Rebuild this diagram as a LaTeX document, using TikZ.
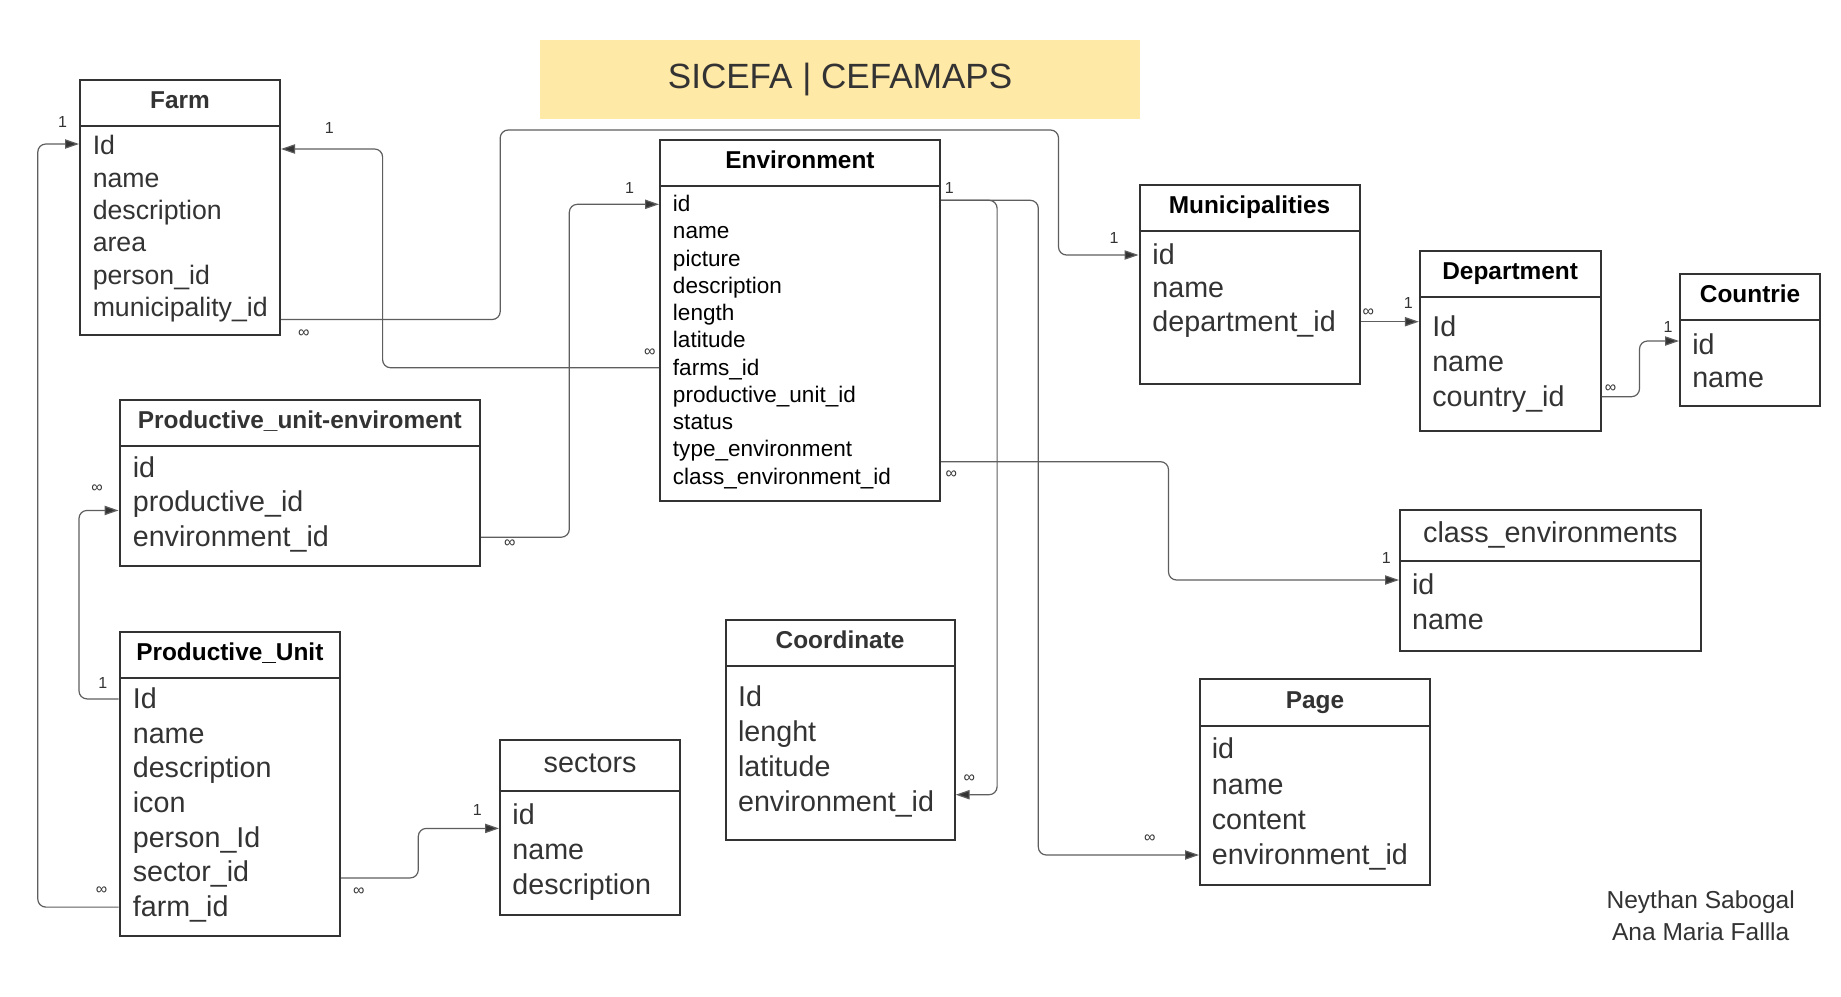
\documentclass[tikz,border=0pt]{standalone}
\usepackage{fontspec}
\setmainfont{Liberation Sans}
\usetikzlibrary{arrows.meta,fit,calc}
\definecolor{boxc}{HTML}{333333}
\definecolor{txt}{HTML}{333333}
\definecolor{linec}{HTML}{5E5E5E}
\definecolor{titlefill}{HTML}{FFE9A6}
\newcommand\fs[1]{\fontsize{#1}{#1}\selectfont}
% name, L, T, R, B, header-rule y, header style, title
\newcommand\ertable[8]{%
  \coordinate (#1-nw) at (#2,#3);
  \coordinate (#1-se) at (#4,#5);
  \node[tbl, fit=(#1-nw)(#1-se)] (#1) {};
  \draw[rule] (#2,#6) -- (#4,#6);
  \node[#7] (#1-title) at ({(#2+#4)/2},{(#3+#6)/2-3}) {#8};
}
% prefix, x, y0, pitch, style, list key/text
\newcommand\erfields[6]{%
  \foreach \fkey/\ftxt [count=\i from 0] in {#6}{%
    \node[#5] (#1-\fkey) at (#2,{#3+\i*#4}) {\ftxt};
  }%
}
\begin{document}
\begin{tikzpicture}[x=0.75pt,y=-0.75pt,
  tbl/.style={draw=boxc,line width=1.5pt,inner sep=0pt,fill=white},
  rule/.style={draw=boxc,line width=1.5pt},
  hdr/.style={font=\bfseries\fs{18.3pt},text=txt,inner sep=0pt,text height=13.1pt,text depth=0pt},
  hdrn/.style={font=\fs{21.6pt},text=txt,inner sep=0pt,text height=15.5pt,text depth=0pt},
  f20/.style={anchor=west,inner sep=0pt,text=txt,font=\fs{20pt},text height=16pt,text depth=2.8pt},
  f17/.style={anchor=west,inner sep=0pt,text=black,font=\fs{16.9pt},text height=13.5pt,text depth=2.4pt},
  f21/.style={anchor=west,inner sep=0pt,text=txt,font=\fs{21.5pt},text height=17.2pt,text depth=3pt},
  conn/.style={draw=linec,line width=0.9pt,rounded corners=6pt,
    -{Triangle[length=10.5pt,width=7pt,fill=boxc]}},
  card/.style={font=\fs{12pt},text=txt,inner sep=0pt},
]
\useasboundingbox (0,0) rectangle (1841,996);
\fill[white] (0,0) rectangle (1841,996);

% title
\coordinate (tb-nw) at (540,40);
\coordinate (tb-se) at (1140,119);
\node[fit=(tb-nw)(tb-se),fill=titlefill,inner sep=0pt] (titlebox) {};
\node[font=\fs{26.3pt},text=txt,inner sep=0pt,text height=18.9pt,text depth=0pt] (title) at (840,75.5) {SICEFA | CEFAMAPS};

% tables
\ertable{farm}{80}{80}{280}{335}{125.7}{hdr}{Farm}
\erfields{farm}{92.5}{146}{32.3}{f20}{id/Id,name/name,desc/description,area/area,person/person\_id,mun/municipality\_id}

\ertable{env}{660}{140}{940}{500.5}{185.7}{hdr,text=black}{Environment}
\erfields{env}{672.7}{204.3}{27.24}{f17}{id/id,name/name,pic/picture,desc/description,len/length,lat/latitude,farms/farms\_id,pu/productive\_unit\_id,status/status,type/type\_environment,class/class\_environment\_id}

\ertable{mun}{1139.5}{185}{1359.5}{384.3}{231}{hdr,text=black}{Municipalities}
\erfields{mun}{1152.2}{255}{33.35}{f21}{id/id,name/name,dept/department\_id}

\ertable{dept}{1419.8}{251}{1600.5}{431}{297}{hdr,text=black}{Department}
\erfields{dept}{1432}{326.7}{35}{f21}{id/Id,name/name,country/country\_id}

\ertable{ctry}{1680}{274.3}{1820.2}{406}{320}{hdr,text=black}{Countrie}
\erfields{ctry}{1692}{345}{33.3}{f21}{id/id,name/name}

\ertable{pue}{119.5}{399.6}{480.2}{565.7}{445.9}{hdr}{Productive\_unit-enviroment}
\erfields{pue}{132.6}{467.7}{34.75}{f21}{id/id,prod/productive\_id,env/environment\_id}

\ertable{pu}{119.5}{632.3}{340.2}{935.7}{677.8}{hdr,text=black}{Productive\_Unit}
\erfields{pu}{132.6}{698.9}{34.7}{f21}{id/Id,name/name,desc/description,icon/icon,person/person\_Id,sector/sector\_id,farm/farm\_id}

\ertable{sec}{500}{740}{680.2}{915.3}{790.7}{hdrn}{sectors}
\erfields{sec}{512.2}{814.7}{35.15}{f21}{id/id,name/name,desc/description}

\ertable{coord}{725.5}{620}{954.7}{840}{666}{hdr}{Coordinate}
\erfields{coord}{737.8}{697.3}{34.8}{f21}{id/Id,len/lenght,lat/latitude,env/environment\_id}

\ertable{cls}{1400}{510}{1700.7}{650.7}{560.7}{hdrn}{class\_environments}
\erfields{cls}{1411.8}{585}{35}{f21}{id/id,name/name}

\ertable{page}{1200}{679.3}{1430}{885}{725.7}{hdr}{Page}
\erfields{page}{1211.6}{749.3}{35.23}{f21}{id/id,name/name,content/content,env/environment\_id}

% connectors
\draw[conn] ($(farm.east |- farm-mun)+(0,12)$) -| (500.2,130)
  -| ($(mun.west |- mun-id)+(-80,0)$) -- (mun.west |- mun-id);
\draw[conn] (env.west |- env-farms) -| ($(farm.east |- farm-id)+(101.6,3)$)
  -- ($(farm.east |- farm-id)+(0,3)$);
\draw[conn] (pue.east |- pue-env) -| ($(env.west |- env-id)+(-89.7,0)$) -- (env.west |- env-id);
\draw[conn] (pu.west |- pu-id) -| ($(pue.west |- pue-prod)+(-39.5,8)$) -- ($(pue.west |- pue-prod)+(0,8)$);
\draw[conn] (pu.west |- pu-farm) -| ($(farm.west |- farm-id)+(-41.2,-2)$) -- ($(farm.west |- farm-id)+(0,-2)$);
\draw[conn] ($(pu.east |- pu-sector)+(0,5.5)$) -| ($(sec.west |- sec-id)+(-80.7,13.7)$) -- ($(sec.west |- sec-id)+(0,13.7)$);
\draw[conn] ($(env.east |- env-id)+(0,-4)$) -| ($(coord.east |- coord-env)+(41.4,-7)$) -- ($(coord.east |- coord-env)+(0,-7)$);
\draw[conn] ($(env.east |- env-id)+(0,-4)$) -| ($(page.west |- page-env)+(-160.7,0)$) -- (page.west |- page-env);
\draw[conn] ($(env.east |- env-class)+(0,-15)$) -| ($(cls.west |- cls-id)+(-230.5,-5)$) -- ($(cls.west |- cls-id)+(0,-5)$);
\draw[conn] (mun.east |- mun-dept) -- (dept.west |- mun-dept);
\draw[conn] (dept.east |- dept-country) -| ($(ctry.west |- ctry-id)+(-39.5,-4)$) -- ($(ctry.west |- ctry-id)+(0,-4)$);

% cardinalities
\node[card] (c1a) at (303.7,333.3) {∞};
\node[card] (c1b) at (1114,238.3) {1};
\node[card] (c2a) at (329.4,128.3) {1};
\node[card] (c2b) at (649.8,352.3) {∞};
\node[card] (c3a) at (509.8,543.9) {∞};
\node[card] (c3b) at (629.5,187.7) {1};
\node[card] (c4a) at (102.9,682.6) {1};
\node[card] (c4b) at (97,488.4) {∞};
\node[card] (c5a) at (62.5,121.7) {1};
\node[card] (c5b) at (101.7,890.5) {∞};
\node[card] (c6a) at (358.8,891.7) {∞};
\node[card] (c6b) at (477.4,810.3) {1};
\node[card] (c7a) at (949.4,187.7) {1};
\node[card] (c7b) at (969.3,778.3) {∞};
\node[card] (c8a) at (1149.8,838.3) {∞};
\node[card] (c9a) at (951.3,475) {∞};
\node[card] (c9b) at (1386.3,558.3) {1};
\node[card] (c10a) at (1368.3,312.7) {∞};
\node[card] (c10b) at (1408.3,303.3) {1};
\node[card] (c11a) at (1610.6,388.3) {∞};
\node[card] (c11b) at (1668,326.7) {1};

% authors
\node[font=\fs{18.4pt},text=txt] (auth1) at (1700.7,901.7) {Neythan Sabogal};
\node[font=\fs{18.4pt},text=txt] (auth2) at (1700.7,931.7) {Ana Maria Fallla};
\end{tikzpicture}
\end{document}
